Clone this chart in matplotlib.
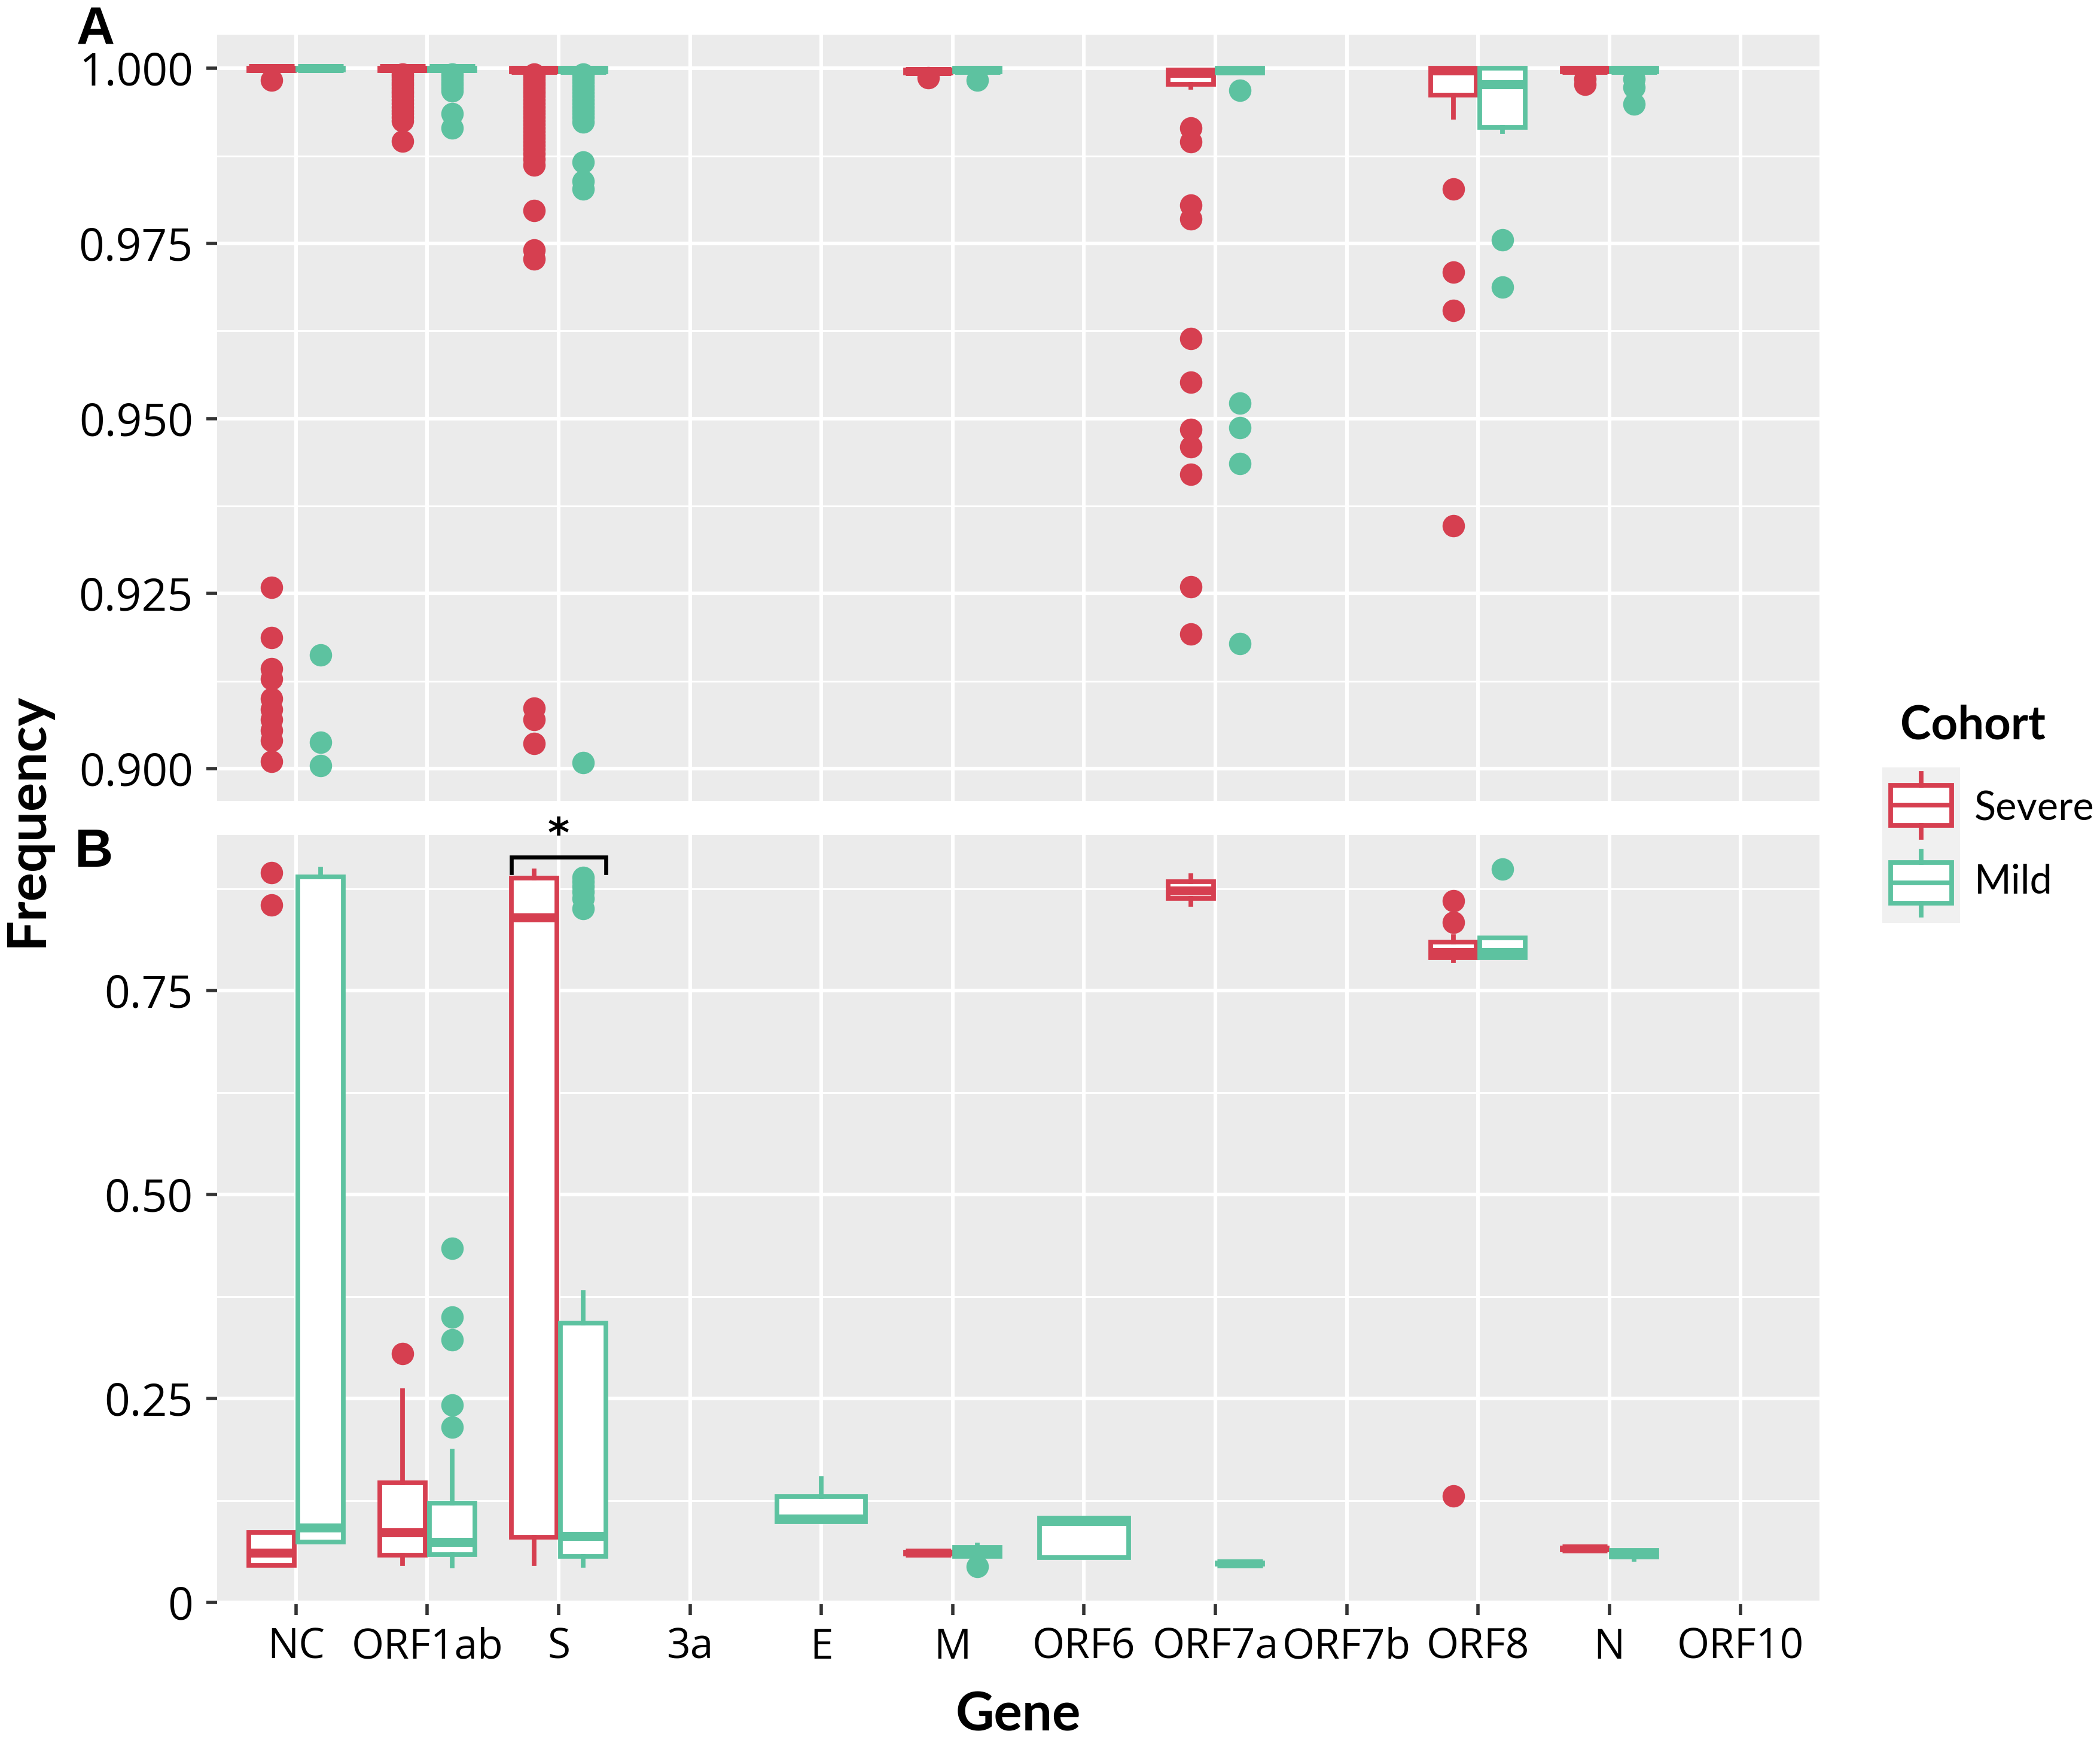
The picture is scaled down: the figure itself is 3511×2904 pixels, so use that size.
import numpy as np
import matplotlib
matplotlib.use("Agg")
import matplotlib.pyplot as plt

plt.rcParams["font.family"] = ["Open Sans", "DejaVu Sans"]

RED = "#D63F50"
GREEN = "#5DC2A0"
PANEL_BG = "#EBEBEB"

GENES = ["NC", "ORF1ab", "S", "3a", "E", "M", "ORF6", "ORF7a", "ORF7b",
         "ORF8", "N", "ORF10"]

# ---- panel A (frequencies close to 1) ----
A_SEV_GENES = ["NC", "ORF1ab", "S", "M", "ORF7a", "ORF8", "N"]
A_SEV_Q1 = [0.9997, 0.9997, 0.9995, 0.9993, 0.9977, 0.9962, 0.9995]
A_SEV_MED = [1.0000, 1.0000, 0.9998, 0.9996, 0.9993, 0.9997, 0.9998]
A_SEV_Q3 = [1.0000, 1.0000, 1.0000, 0.9998, 0.9998, 1.0000, 1.0000]
A_SEV_LO = [0.9997, 0.9997, 0.9995, 0.9993, 0.9973, 0.9930, 0.9995]
A_SEV_HI = [1.0000, 1.0000, 1.0000, 0.9998, 0.9998, 1.0000, 1.0000]
A_SEV_OUT = {
    "NC": [0.9983, 0.9259, 0.9187, 0.9143, 0.9128, 0.9100, 0.9085, 0.9070,
           0.9055, 0.9040, 0.9010],
    "ORF1ab": [0.9992, 0.9988, 0.9984, 0.9980, 0.9976, 0.9972, 0.9968, 0.9964,
               0.9960, 0.9955, 0.9950, 0.9945, 0.9940, 0.9935, 0.9930, 0.9925,
               0.9896],
    "S": [0.9992, 0.9988, 0.9984, 0.9980, 0.9976, 0.9972, 0.9968, 0.9964,
          0.9960, 0.9955, 0.9950, 0.9945, 0.9940, 0.9935, 0.9930, 0.9925,
          0.9920, 0.9915, 0.9910, 0.9905, 0.9900, 0.9895, 0.9890, 0.9885,
          0.9878, 0.9870, 0.9862, 0.9797, 0.9741, 0.9728, 0.9086, 0.9070,
          0.9036],
    "M": [0.9987],
    "ORF7a": [0.9915, 0.9895, 0.9805, 0.9785, 0.9614, 0.9552, 0.9484, 0.9460,
              0.9420, 0.9260, 0.9192],
    "ORF8": [0.9828, 0.9709, 0.9654, 0.9347],
    "N": [0.9985, 0.9977],
}

A_MILD_GENES = ["NC", "ORF1ab", "S", "M", "ORF7a", "ORF8", "N"]
A_MILD_Q1 = [0.9998, 0.9997, 0.9995, 0.9995, 0.9993, 0.9916, 0.9995]
A_MILD_MED = [1.0000, 1.0000, 0.9998, 0.9998, 0.9997, 0.9977, 0.9998]
A_MILD_Q3 = [1.0000, 1.0000, 1.0000, 1.0000, 1.0000, 1.0000, 1.0000]
A_MILD_LO = [0.9998, 0.9997, 0.9995, 0.9995, 0.9993, 0.9910, 0.9995]
A_MILD_HI = [1.0000, 1.0000, 1.0000, 1.0000, 1.0000, 1.0000, 1.0000]
A_MILD_OUT = {
    "NC": [0.9162, 0.9038, 0.9004],
    "ORF1ab": [0.9992, 0.9988, 0.9984, 0.9980, 0.9976, 0.9972, 0.9968,
               0.9935, 0.9915],
    "S": [0.9992, 0.9988, 0.9984, 0.9980, 0.9975, 0.9970, 0.9965, 0.9960,
          0.9955, 0.9950, 0.9945, 0.9940, 0.9935, 0.9930, 0.9923, 0.9866,
          0.9839, 0.9828, 0.9009],
    "M": [0.9983],
    "ORF7a": [0.9969, 0.9522, 0.9487, 0.9436, 0.9179],
    "ORF8": [0.9755, 0.9688],
    "N": [0.9985, 0.9973, 0.9949],
}

# ---- panel B (full range) ----
B_SEV_GENES = ["NC", "ORF1ab", "S", "M", "ORF7a", "ORF8", "N"]
B_SEV_Q1 = [0.046, 0.058, 0.080, 0.060, 0.863, 0.791, 0.065]
B_SEV_MED = [0.061, 0.086, 0.840, 0.061, 0.873, 0.797, 0.066]
B_SEV_Q3 = [0.086, 0.147, 0.888, 0.062, 0.884, 0.810, 0.067]
B_SEV_LO = [0.046, 0.048, 0.048, 0.060, 0.856, 0.787, 0.065]
B_SEV_HI = [0.086, 0.260, 0.897, 0.062, 0.891, 0.816, 0.067]
B_SEV_OUT = {
    "NC": [0.895, 0.855],
    "ORF1ab": [0.305],
    "ORF8": [0.860, 0.834, 0.131],
}

B_MILD_GENES = ["NC", "ORF1ab", "S", "E", "M", "ORF6", "ORF7a", "ORF8", "N"]
B_MILD_Q1 = [0.074, 0.059, 0.057, 0.099, 0.057, 0.055, 0.047, 0.791, 0.056]
B_MILD_MED = [0.092, 0.074, 0.082, 0.103, 0.063, 0.100, 0.048, 0.797, 0.060]
B_MILD_Q3 = [0.890, 0.122, 0.343, 0.130, 0.068, 0.104, 0.049, 0.815, 0.064]
B_MILD_LO = [0.074, 0.045, 0.046, 0.099, 0.057, 0.055, 0.047, 0.791, 0.053]
B_MILD_HI = [0.899, 0.186, 0.380, 0.152, 0.071, 0.104, 0.049, 0.815, 0.064]
B_MILD_OUT = {
    "ORF1ab": [0.434, 0.350, 0.322, 0.242, 0.215],
    "S": [0.889, 0.884, 0.878, 0.871, 0.863, 0.851],
    "M": [0.044],
    "ORF8": [0.899],
}

SIG_GENE = "S"
SIG_LABEL = "*"

BOX_LW = 2.8
MED_LW = 5.4


def stats_list(genes, q1, med, q3, lo, hi, out):
    return [dict(q1=a, med=m, q3=b, whislo=l, whishi=h, fliers=out.get(g, []))
            for g, a, m, b, l, h in zip(genes, q1, med, q3, lo, hi)]


def draw_boxes(ax, stats, genes, other_genes, color, side):
    pos, wid = [], []
    for g in genes:
        x = GENES.index(g)
        if g in other_genes:
            pos.append(x + side * 0.1875)
            wid.append(0.345)
        else:
            pos.append(x)
            wid.append(0.675)
    ax.bxp(stats, positions=pos, widths=wid, patch_artist=True,
           showcaps=False, manage_ticks=False,
           boxprops=dict(facecolor="white", edgecolor=color, linewidth=BOX_LW),
           medianprops=dict(color=color, linewidth=MED_LW, solid_capstyle="butt"),
           whiskerprops=dict(color=color, linewidth=BOX_LW),
           flierprops=dict(marker="o", markerfacecolor=color,
                           markeredgecolor=color, markersize=12.5,
                           linestyle="none"))


def style_axes(ax, ylim, yticks, ylabels, yminor, show_x):
    ax.set_facecolor(PANEL_BG)
    for s in ax.spines.values():
        s.set_visible(False)
    ax.set_xlim(-0.6, len(GENES) - 0.4)
    ax.set_ylim(*ylim)
    ax.set_xticks(range(len(GENES)))
    ax.set_yticks(yticks)
    ax.set_yticklabels(ylabels)
    ax.set_yticks(yminor, minor=True)
    ax.grid(True, which="major", color="white", linewidth=2.2)
    ax.grid(True, which="minor", axis="y", color="white", linewidth=1.1)
    ax.set_axisbelow(True)
    ax.tick_params(which="minor", length=0)
    ax.tick_params(axis="y", which="major", length=6.5, width=2,
                   color="#333333", labelsize=27, pad=8)
    if show_x:
        ax.set_xticklabels(GENES)
        ax.tick_params(axis="x", which="major", length=6.5, width=2,
                       color="#333333", labelsize=25, pad=7)
    else:
        ax.set_xticklabels([])
        ax.tick_params(axis="x", which="major", length=0)


fig = plt.figure(figsize=(17.56, 14.52), dpi=200)
axA = fig.add_axes([0.1034, 0.5389, 0.7628, 0.4411])
axB = fig.add_axes([0.1034, 0.0764, 0.7628, 0.4429])

draw_boxes(axA, stats_list(A_SEV_GENES, A_SEV_Q1, A_SEV_MED, A_SEV_Q3,
                           A_SEV_LO, A_SEV_HI, A_SEV_OUT),
           A_SEV_GENES, A_MILD_GENES, RED, -1)
draw_boxes(axA, stats_list(A_MILD_GENES, A_MILD_Q1, A_MILD_MED, A_MILD_Q3,
                           A_MILD_LO, A_MILD_HI, A_MILD_OUT),
           A_MILD_GENES, A_SEV_GENES, GREEN, 1)
style_axes(axA, (0.8954, 1.0048), [0.900, 0.925, 0.950, 0.975, 1.000],
           ["0.900", "0.925", "0.950", "0.975", "1.000"],
           [0.9125, 0.9375, 0.9625, 0.9875], False)

draw_boxes(axB, stats_list(B_SEV_GENES, B_SEV_Q1, B_SEV_MED, B_SEV_Q3,
                           B_SEV_LO, B_SEV_HI, B_SEV_OUT),
           B_SEV_GENES, B_MILD_GENES, RED, -1)
draw_boxes(axB, stats_list(B_MILD_GENES, B_MILD_Q1, B_MILD_MED, B_MILD_Q3,
                           B_MILD_LO, B_MILD_HI, B_MILD_OUT),
           B_MILD_GENES, B_SEV_GENES, GREEN, 1)
style_axes(axB, (-0.002, 0.941), [0, 0.25, 0.50, 0.75],
           ["0", "0.25", "0.50", "0.75"], [0.125, 0.375, 0.625, 0.875], True)

# significance bracket over S
xs = GENES.index(SIG_GENE)
axB.plot([xs - 0.36, xs - 0.36, xs + 0.36, xs + 0.36],
         [0.895, 0.914, 0.914, 0.895], color="black", lw=2.4,
         solid_joinstyle="miter", clip_on=False)
axB.text(xs, 0.916, SIG_LABEL, ha="center", va="bottom", fontsize=25,
         fontweight="bold", family="DejaVu Sans")

# panel letters and axis titles
fig.text(0.0456, 0.9824, "A", ha="center", va="center", fontsize=32,
         fontweight="bold", family="Liberation Sans")
fig.text(0.0447, 0.5090, "B", ha="center", va="center", fontsize=32,
         fontweight="bold", family="Liberation Sans")
fig.text(0.0128, 0.528, "Frequency", rotation=90, ha="center", va="center",
         fontsize=32.5, fontweight="bold", family=["Lato", "DejaVu Sans"])
fig.text(0.4848, 0.0127, "Gene", ha="center", va="center", fontsize=32,
         fontweight="bold", family=["Lato", "DejaVu Sans"])

# legend
fig.text(0.9045, 0.5823, "Cohort", ha="left", va="center", fontsize=28,
         fontweight="bold", family=["Lato", "DejaVu Sans"])
axL = fig.add_axes([0.8961, 0.4687, 0.0370, 0.0895])
axL.set_facecolor("#F0F0F0")
axL.set_xlim(0, 1)
axL.set_ylim(0, 1)
axL.set_xticks([])
axL.set_yticks([])
for s in axL.spines.values():
    s.set_visible(False)
for color, (lo, q1, med, q3, hi) in [(RED, (0.55, 0.627, 0.756, 0.885, 0.96)),
                                     (GREEN, (0.05, 0.127, 0.258, 0.388, 0.46))]:
    axL.bxp([dict(q1=q1, med=med, q3=q3, whislo=lo, whishi=hi, fliers=[])],
            positions=[0.5], widths=[0.785], patch_artist=True,
            showcaps=False, manage_ticks=False,
            boxprops=dict(facecolor="white", edgecolor=color, linewidth=BOX_LW),
            medianprops=dict(color=color, linewidth=BOX_LW),
            whiskerprops=dict(color=color, linewidth=BOX_LW))
fig.text(0.9400, 0.5344, "Severe", ha="left", va="center", fontsize=24,
         family=["Lato", "DejaVu Sans"])
fig.text(0.9400, 0.4921, "Mild", ha="left", va="center", fontsize=24,
         family=["Lato", "DejaVu Sans"])

fig.savefig("out.png", dpi=200)
